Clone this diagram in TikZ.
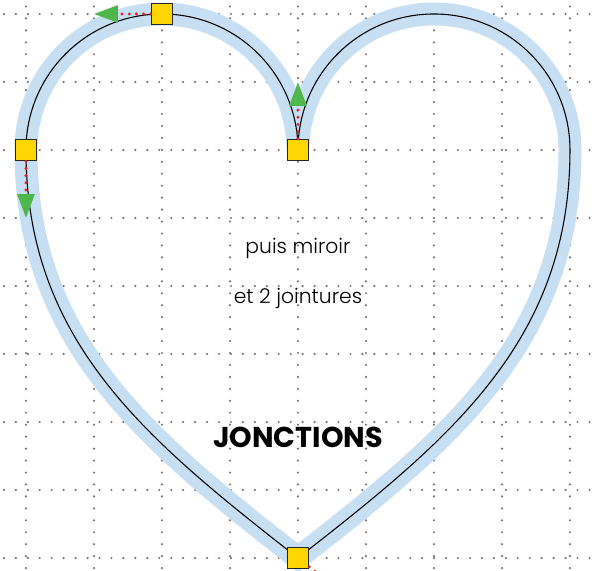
\documentclass[tikz,border=0pt]{standalone}
\usepackage{fontspec}
\setmainfont{Poppins}
\newfontfamily\lightfont{Poppins Light}
\usetikzlibrary{arrows.meta}
\definecolor{bandblue}{RGB}{199,223,242}
\definecolor{knotyellow}{RGB}{255,214,0}
\definecolor{handlered}{RGB}{232,32,42}
\definecolor{tipgreen}{RGB}{78,182,74}
\tikzset{
  knot/.style={draw=black!85,line width=0.6pt,fill=knotyellow,minimum size=8.8pt,inner sep=0pt},
  handle/.style={handlered,line width=1.4pt,line cap=round,dash pattern=on 0pt off 3pt,
    -{Triangle[length=10pt,width=7pt,color=tipgreen,line cap=butt]}},
  note/.style={anchor=base,font=\lightfont\fontsize{8.5}{10}\selectfont},
}
\begin{document}
\begin{tikzpicture}[x=1cm,y=1cm]
\clip (-4.382,-0.191) rectangle (4.368,8.206);
\draw[black!55,line width=1pt,line cap=round,dash pattern=on 0pt off 5pt] (-4.5,-0.5) grid (4.5,8.5);

\coordinate (m) at (0,6);
\coordinate (tl) at (-2,8);
\coordinate (l) at (-4,6);
\coordinate (b) at (0,0);
\coordinate (r) at (4,6);
\coordinate (tr) at (2,8);

\draw[bandblue,line width=9.6pt] (m) to[out=90,in=0] (tl) to[out=180,in=90] (l)
  to[out=-90,in=142] (b) to[out=38,in=-90] (r) to[out=90,in=0] (tr) to[out=180,in=90] (m);
\draw[line width=0.45pt] (m) to[out=90,in=0] (tl) to[out=180,in=90] (l)
  to[out=-90,in=142] (b) to[out=38,in=-90] (r) to[out=90,in=0] (tr) to[out=180,in=90] (m);

\node[knot] (km) at (m) {};
\node[knot] (ktl) at (tl) {};
\node[knot] (kl) at (l) {};
\node[knot] (kb) at (b) {};

\coordinate (hm) at (0,7);
\coordinate (htl) at (-3,8);
\coordinate (hl) at (-4,5);
\coordinate (hb) at (-38:1);

\draw[handle] (km) -- (hm);
\draw[handle] (ktl) -- (htl);
\draw[handle] (kl) -- (hl);
\draw[handle] (kb) -- (hb);

\node[note] (mirror) at (0,4.48) {puis miroir};
\node[note] (joints) at (0,3.745) {et 2 jointures};
\node[anchor=base,font=\bfseries\fontsize{12}{14}\selectfont] (title) at (0,1.63) {JONCTIONS};
\end{tikzpicture}
\end{document}
